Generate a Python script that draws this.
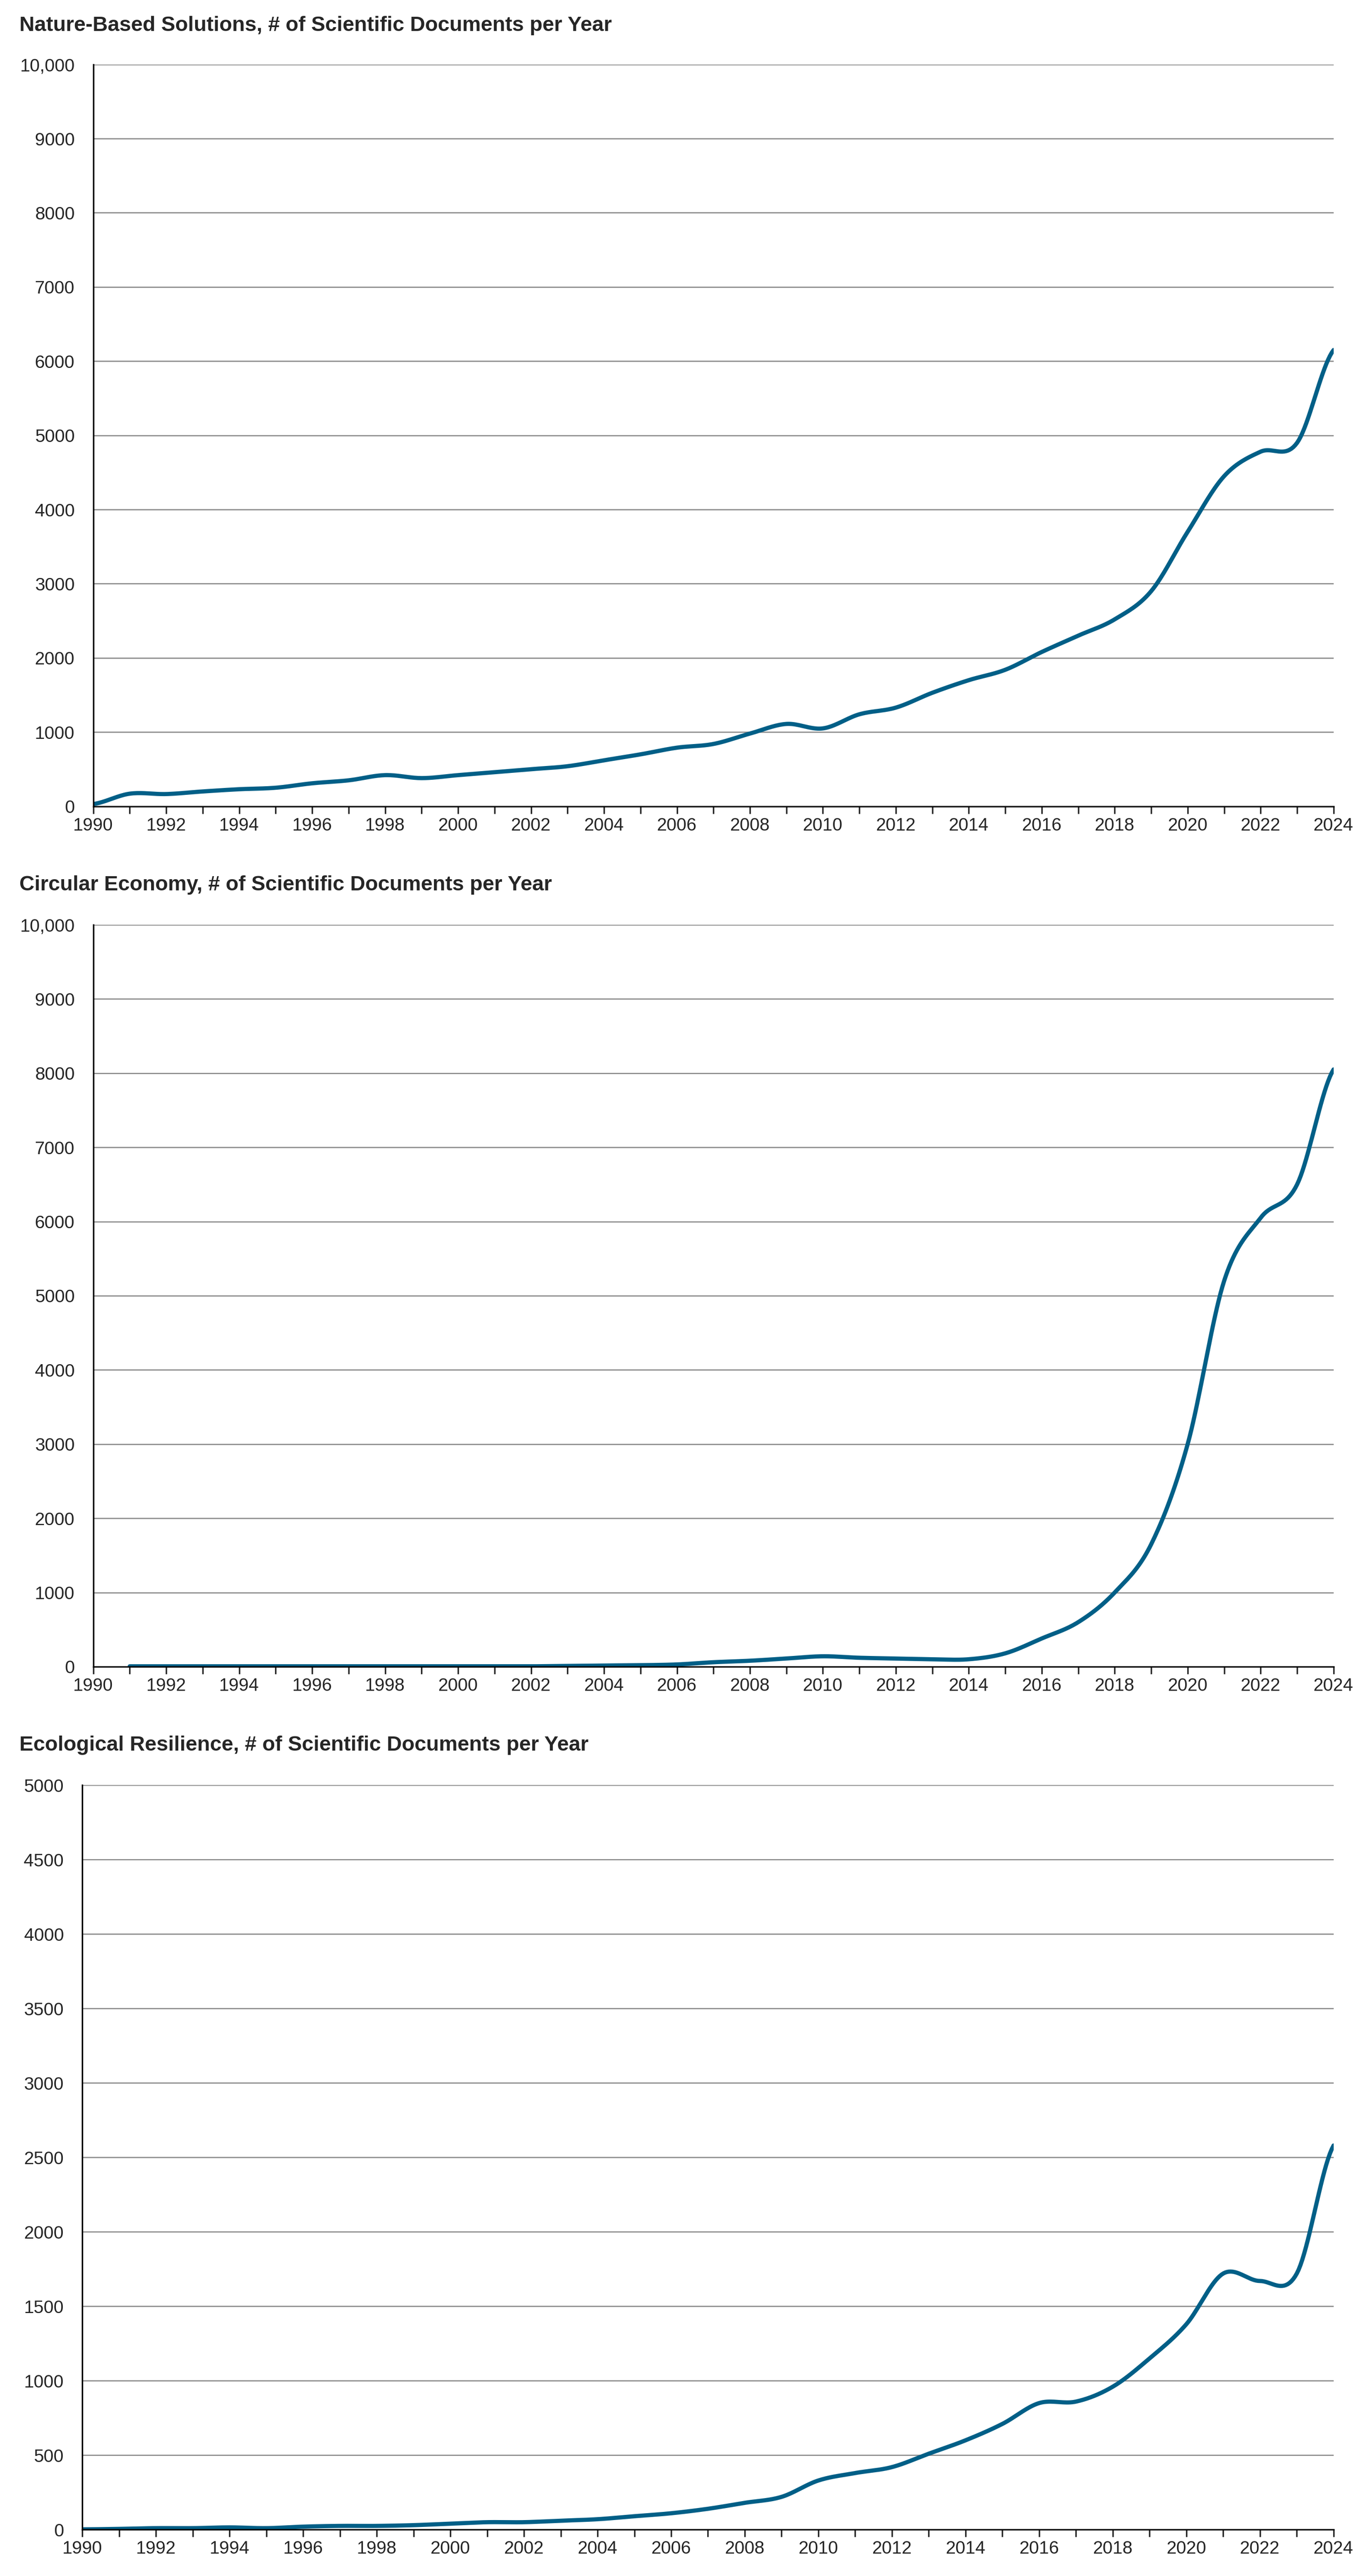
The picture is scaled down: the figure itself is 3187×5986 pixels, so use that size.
import numpy as np, pandas as pd, seaborn as sns, matplotlib
matplotlib.use("Agg")
import matplotlib.pyplot as plt
from matplotlib.ticker import FuncFormatter

sns.set_theme(style="white")
plt.rcParams['font.family'] = ['Liberation Sans', 'DejaVu Sans']

years_nbs = list(range(1990, 2025))
nbs = [30,170,165,200,230,250,310,350,420,380,420,460,500,540,620,700,790,840,980,1110,
       1050,1240,1330,1530,1700,1840,2080,2300,2520,2900,3700,4450,4780,4900,6150]
years_ce = list(range(1991, 2025))
ce = [5,5,5,5,5,5,5,5,5,5,5,5,10,15,20,30,60,80,110,140,120,110,100,100,180,380,600,
      1000,1650,3000,5200,6050,6500,8050]
years_er = list(range(1990, 2025))
er = [2,5,10,10,15,10,20,25,25,30,40,50,50,60,70,90,110,140,180,220,330,380,420,510,600,
      710,850,860,960,1150,1380,1720,1670,1720,2580]

titles = ["Nature-Based Solutions, # of Scientific Documents per Year",
          "Circular Economy, # of Scientific Documents per Year",
          "Ecological Resilience, # of Scientific Documents per Year"]

def smooth(x, y, n=20):
    x = np.asarray(x, float); y = np.asarray(y, float)
    xs, ys = [], []
    for i in range(len(x) - 1):
        p0 = y[i-1] if i > 0 else y[i]
        p3 = y[i+2] if i + 2 < len(y) else y[i+1]
        p1, p2 = y[i], y[i+1]
        t = np.linspace(0, 1, n, endpoint=False)
        seg = 0.5*((2*p1) + (-p0+p2)*t + (2*p0-5*p1+4*p2-p3)*t**2 + (-p0+3*p1-3*p2+p3)*t**3)
        xs.append(x[i] + t*(x[i+1]-x[i])); ys.append(seg)
    xs.append([x[-1]]); ys.append([y[-1]])
    return np.concatenate(xs), np.concatenate(ys)

fig = plt.figure(figsize=(31.87, 59.86), dpi=100)
boxes = [(0.068, 0.687, 0.904, 0.288), (0.068, 0.353, 0.904, 0.288), (0.060, 0.018, 0.912, 0.289)]
datas = [(years_nbs, nbs, 10000, 1000), (years_ce, ce, 10000, 1000), (years_er, er, 5000, 500)]
title_y = [0.990, 0.6565, 0.3225]
color = "#005F87"

for box, (xs, ys, ymax, step), t, ty in zip(boxes, datas, titles, title_y):
    ax = fig.add_axes(box)
    sx, sy = smooth(xs, ys)
    sns.lineplot(x=sx, y=sy, ax=ax, color=color, linewidth=7)
    ax.set_xlim(1990, 2024); ax.set_ylim(0, ymax)
    ax.set_xticks(range(1990, 2025, 2))
    ax.set_xticks(range(1990, 2025, 1), minor=True)
    ax.set_yticks(np.arange(0, ymax + 1, step))
    ax.yaxis.set_major_formatter(FuncFormatter(lambda v, p: f"{int(v):,}" if v >= 10000 else f"{int(v)}"))
    ax.grid(axis='y', color='#8c8c8c', linewidth=2)
    for s in ['top', 'right']:
        ax.spines[s].set_visible(False)
    for s in ['left', 'bottom']:
        ax.spines[s].set_color('black'); ax.spines[s].set_linewidth(2.5)
    ax.tick_params(axis='x', which='both', bottom=True, length=12, width=2.5, labelsize=30, pad=6)
    ax.tick_params(axis='y', left=False, labelsize=30, pad=25)
    ax.set_xlabel(""); ax.set_ylabel("")
    fig.text(0.014, ty, t, fontsize=35, fontweight='bold', va='center', ha='left')

fig.savefig("out.png", dpi=100)
